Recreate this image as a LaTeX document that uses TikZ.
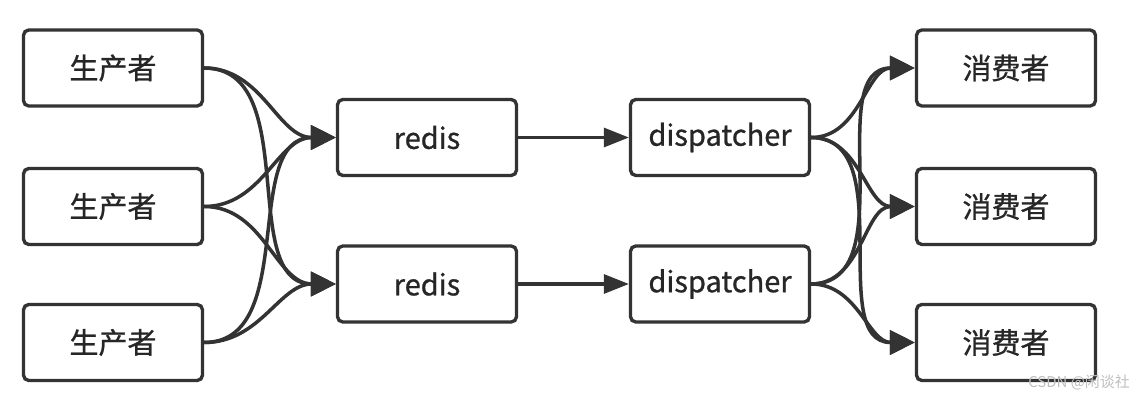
\documentclass[tikz,border=0pt]{standalone}
\usepackage{fontspec}
\setmainfont{Noto Sans CJK SC}
\newfontfamily\boxfont{Noto Sans CJK SC}[FakeBold=0.9]
\usetikzlibrary{arrows.meta, positioning}

\begin{document}
\begin{tikzpicture}[
        x=0.02cm,
        y=-0.02cm,
        box/.style={draw=black!80, line width=1.9pt, rounded corners=3pt, fill=white,
                    minimum width=3.58cm, minimum height=1.52cm, inner sep=0pt,
                    font=\boxfont\fontsize{16.5}{19}\selectfont, text=black!85},
        link/.style={-{Triangle[length=5mm, width=4.8mm]}, line width=2pt, draw=black!80},
        flow/.style={-{Triangle[length=5mm, width=3.8mm]}, line width=1.8pt, draw=black!80},
        wmark/.style={font=\fontsize{8.5}{10}\selectfont, text=black!25}
    ]
        \useasboundingbox (0,0) rectangle (1144,401);

        % === PRODUCTEURS ===
        \node[box] (P1) at (113,68) {生产者};
        \node[box] (P2) at (113,206.5) {生产者};
        \node[box] (P3) at (113,342.5) {生产者};
        % === FILES ===
        \node[box] (R1) at (427,137.5) {redis};
        \node[box] (R2) at (427,284) {redis};
        \node[box] (D1) at (720,137.5) {dispatcher};
        \node[box] (D2) at (720,284) {dispatcher};
        % === CONSOMMATEURS ===
        \node[box] (C1) at (1006,68) {消费者};
        \node[box] (C2) at (1006,206.5) {消费者};
        \node[box] (C3) at (1006,342.5) {消费者};

        % === PRODUCTEURS -> REDIS ===
        \draw[link] (P1.east) to[out=0, in=180] (R1.west);
        \draw[link] (P1.east) to[out=0, in=180] (R2.west);
        \draw[link] (P2.east) to[out=0, in=180] (R1.west);
        \draw[link] (P2.east) to[out=0, in=180] (R2.west);
        \draw[link] (P3.east) to[out=0, in=180] (R1.west);
        \draw[link] (P3.east) to[out=0, in=180] (R2.west);

        % === REDIS -> DISPATCHER ===
        \draw[flow] (R1) -- (D1);
        \draw[flow] (R2) -- (D2);

        % === DISPATCHER -> CONSOMMATEURS ===
        \draw[link] (D1.east) to[out=0, in=180] (C1.west);
        \draw[link] (D1.east) to[out=0, in=180] (C2.west);
        \draw[link] (D1.east) to[out=0, in=180] (C3.west);
        \draw[link] (D2.east) to[out=0, in=180] (C1.west);
        \draw[link] (D2.east) to[out=0, in=180] (C2.west);
        \draw[link] (D2.east) to[out=0, in=180] (C3.west);

        \node[wmark] (wm) at (1079,383) {CSDN @闲谈社};
    \end{tikzpicture}
\end{document}
